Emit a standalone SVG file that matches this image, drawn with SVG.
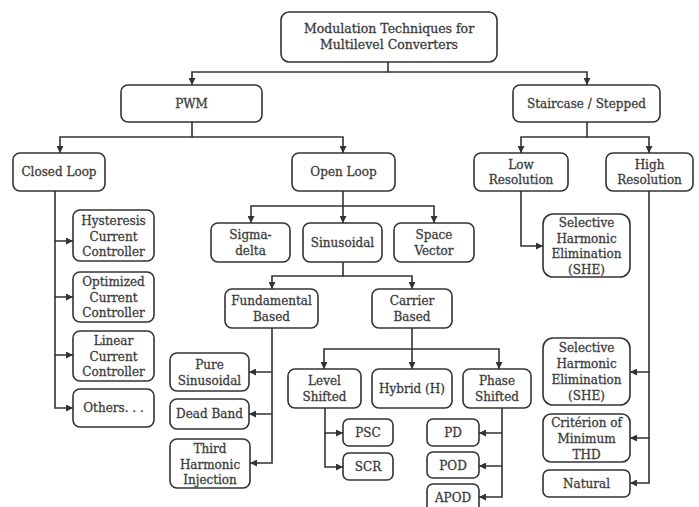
<svg xmlns="http://www.w3.org/2000/svg" width="699" height="507" viewBox="0 0 699 507">
<defs>
<marker id="ah" viewBox="0 0 8 8" refX="8" refY="4" markerWidth="7" markerHeight="7" markerUnits="userSpaceOnUse" orient="auto">
<path d="M0,0 L8,4 L0,8 z" fill="#333"/>
</marker>
<style>
.n rect{fill:#fff;stroke:#333;stroke-width:1.6}
.n text{font-family:"DejaVu Serif",serif;font-size:12px;fill:#3c3c3c;stroke:#3c3c3c;stroke-width:0.3;text-anchor:middle}
#root text{font-size:12.5px}
#connectors path{fill:none;stroke:#333;stroke-width:1.6;marker-end:url(#ah)}
</style>
</defs>
<rect width="699" height="507" fill="#fff"/>
<g id="connectors">
<path d="M388,62 V72 H192 V85"/>
<path d="M388,72 H587 V85"/>
<path d="M192,122 V137 H60 V153"/>
<path d="M192,137 H343 V153"/>
<path d="M587,122 V137 H521 V153"/>
<path d="M587,137 H649 V153"/>
<path d="M55,191 V241 H73"/>
<path d="M55,241 V297 H73"/>
<path d="M55,297 V355 H73"/>
<path d="M55,355 V408 H73"/>
<path d="M343,191 V223"/>
<path d="M343,206 H251 V223"/>
<path d="M343,206 H434 V223"/>
<path d="M343,262 V276 H272 V289"/>
<path d="M343,276 H412 V289"/>
<path d="M272,328 V372 H249"/>
<path d="M272,372 V414 H249"/>
<path d="M272,414 V463 H250"/>
<path d="M412,328 V369"/>
<path d="M412,349 H324 V369"/>
<path d="M412,349 H499 V369"/>
<path d="M325,408 V433 H343"/>
<path d="M325,433 V467 H343"/>
<path d="M502,408 V433 H479"/>
<path d="M502,433 V466 H479"/>
<path d="M502,466 V497 H479"/>
<path d="M521,191 V246 H543"/>
<path d="M649,191 V372 H630"/>
<path d="M649,372 V438 H630"/>
<path d="M649,438 V483 H630"/>
</g>
<g id="root" class="n"><rect x="281" y="12" width="216" height="50" rx="8"/><text x="389" y="33">Modulation Techniques for</text><text x="389" y="49">Multilevel Converters</text></g>
<g id="pwm" class="n"><rect x="121" y="85" width="141" height="37" rx="7"/><text x="191.5" y="108">PWM</text></g>
<g id="staircase" class="n"><rect x="513" y="85" width="147" height="37" rx="7"/><text x="586.5" y="108">Staircase / Stepped</text></g>
<g id="closed-loop" class="n"><rect x="13" y="153" width="92" height="38" rx="7"/><text x="59" y="176">Closed Loop</text></g>
<g id="open-loop" class="n"><rect x="292" y="153" width="103" height="38" rx="7"/><text x="343.5" y="176">Open Loop</text></g>
<g id="low-res" class="n"><rect x="474" y="153" width="94" height="38" rx="7"/><text x="521" y="169">Low</text><text x="521" y="184">Resolution</text></g>
<g id="high-res" class="n"><rect x="606" y="153" width="87" height="38" rx="7"/><text x="649.5" y="169">High</text><text x="649.5" y="184">Resolution</text></g>
<g id="hysteresis" class="n"><rect x="73" y="210" width="81" height="51" rx="7"/><text x="113.5" y="225">Hysteresis</text><text x="113.5" y="241">Current</text><text x="113.5" y="256">Controller</text></g>
<g id="optimized" class="n"><rect x="73" y="272" width="81" height="50" rx="7"/><text x="113.5" y="286">Optimized</text><text x="113.5" y="302">Current</text><text x="113.5" y="317">Controller</text></g>
<g id="linear" class="n"><rect x="73" y="331" width="81" height="50" rx="7"/><text x="113.5" y="345">Linear</text><text x="113.5" y="361">Current</text><text x="113.5" y="376">Controller</text></g>
<g id="others" class="n"><rect x="73" y="389" width="81" height="38" rx="7"/><text x="113.5" y="412">Others. . .</text></g>
<g id="sigma-delta" class="n"><rect x="211" y="223" width="79" height="39" rx="7"/><text x="250.5" y="239">Sigma-</text><text x="250.5" y="255">delta</text></g>
<g id="sinusoidal" class="n"><rect x="303" y="223" width="79" height="39" rx="7"/><text x="342.5" y="247">Sinusoidal</text></g>
<g id="space-vector" class="n"><rect x="394" y="223" width="80" height="39" rx="7"/><text x="434" y="239">Space</text><text x="434" y="255">Vector</text></g>
<g id="fundamental" class="n"><rect x="225" y="289" width="93" height="39" rx="7"/><text x="271.5" y="305">Fundamental</text><text x="271.5" y="321">Based</text></g>
<g id="carrier" class="n"><rect x="372" y="289" width="80" height="39" rx="7"/><text x="412" y="305">Carrier</text><text x="412" y="321">Based</text></g>
<g id="pure-sinusoidal" class="n"><rect x="170" y="353" width="79" height="38" rx="7"/><text x="209.5" y="369">Pure</text><text x="209.5" y="385">Sinusoidal</text></g>
<g id="dead-band" class="n"><rect x="170" y="399" width="79" height="30" rx="7"/><text x="209.5" y="418">Dead Band</text></g>
<g id="third-harmonic" class="n"><rect x="170" y="439" width="80" height="49" rx="7"/><text x="210" y="453">Third</text><text x="210" y="469">Harmonic</text><text x="210" y="484">Injection</text></g>
<g id="level-shifted" class="n"><rect x="288" y="369" width="73" height="39" rx="7"/><text x="324.5" y="385">Level</text><text x="324.5" y="401">Shifted</text></g>
<g id="hybrid" class="n"><rect x="372" y="369" width="80" height="39" rx="7"/><text x="412" y="393">Hybrid (H)</text></g>
<g id="phase-shifted" class="n"><rect x="463" y="369" width="68" height="39" rx="7"/><text x="497" y="385">Phase</text><text x="497" y="401">Shifted</text></g>
<g id="psc" class="n"><rect x="343" y="419" width="50" height="27" rx="6"/><text x="368" y="437">PSC</text></g>
<g id="scr" class="n"><rect x="343" y="453" width="50" height="27" rx="6"/><text x="368" y="471">SCR</text></g>
<g id="pd" class="n"><rect x="427" y="419" width="52" height="27" rx="6"/><text x="453" y="437">PD</text></g>
<g id="pod" class="n"><rect x="427" y="452" width="52" height="26" rx="6"/><text x="453" y="470">POD</text></g>
<g id="apod" class="n"><rect x="427" y="484" width="52" height="30" rx="6"/><text x="453" y="502">APOD</text></g>
<g id="she-low" class="n"><rect x="543" y="214" width="87" height="63" rx="10"/><text x="586.5" y="227">Selective</text><text x="586.5" y="243">Harmonic</text><text x="586.5" y="258">Elimination</text><text x="586.5" y="274">(SHE)</text></g>
<g id="she-high" class="n"><rect x="543" y="338" width="87" height="67" rx="10"/><text x="586.5" y="352">Selective</text><text x="586.5" y="368">Harmonic</text><text x="586.5" y="384">Elimination</text><text x="586.5" y="400">(SHE)</text></g>
<g id="criterion" class="n"><rect x="543" y="414" width="87" height="48" rx="8"/><text x="586.5" y="427">Critérion of</text><text x="586.5" y="443">Minimum</text><text x="586.5" y="459">THD</text></g>
<g id="natural" class="n"><rect x="543" y="470" width="87" height="27" rx="6"/><text x="586.5" y="488">Natural</text></g>
</svg>
